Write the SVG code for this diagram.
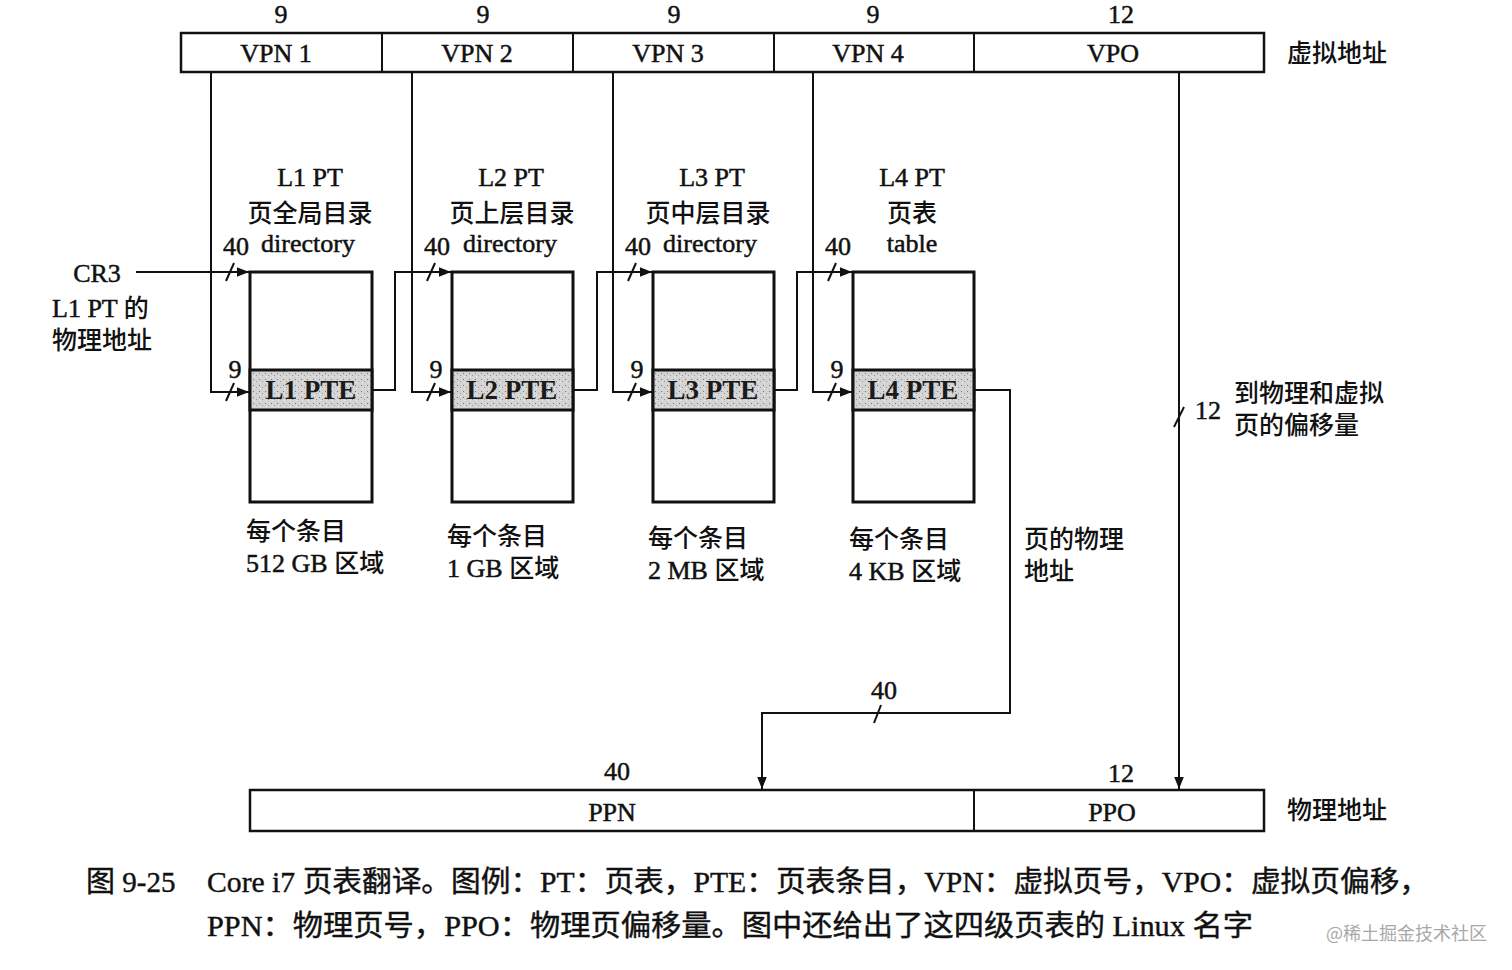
<svg xmlns="http://www.w3.org/2000/svg" width="1512" height="970" viewBox="0 0 1512 970">
<style>
text{font-family:"Liberation Serif","Noto Sans CJK SC",serif;fill:#111;}
.n{font-size:26px;stroke:#111;stroke-width:0.5;}
.c{text-anchor:middle;}
.cj{font-family:"Noto Sans CJK SC",sans-serif;font-size:25px;font-weight:500;stroke:none;}
.cap{font-size:29px;stroke:#111;stroke-width:0.4;}
.box{fill:#fff;stroke:#111;stroke-width:3;}
.bar{fill:#fff;stroke:#111;stroke-width:2.5;}
.pte{fill:url(#stip);stroke:#111;stroke-width:3;}
.pt{font-size:27px;font-weight:bold;text-anchor:middle;fill:#1a1a1a;}
.ln{fill:none;stroke:#111;stroke-width:2;}
.sl{stroke:#111;stroke-width:2;}
</style>
<defs>
<marker id="ar" viewBox="0 0 10 10" refX="10" refY="5" markerWidth="12" markerHeight="12" markerUnits="userSpaceOnUse" orient="auto">
<path d="M0,1 L10,5 L0,9 Z" fill="#111"/>
</marker>
<pattern id="stip" width="6" height="6" patternUnits="userSpaceOnUse">
<rect width="6" height="6" fill="#d4d4d4"/>
<rect x="1" y="1" width="1" height="1" fill="#777"/>
<rect x="4" y="3" width="1" height="1" fill="#999"/>
<rect x="2" y="4" width="1" height="1" fill="#eee"/>
</pattern>
</defs>
<rect width="1512" height="970" fill="#fff"/>

<g id="virtual-address">
<rect class="bar" x="181" y="33" width="1083" height="39"/>
<line class="sl" x1="382" y1="33" x2="382" y2="72"/>
<line class="sl" x1="573" y1="33" x2="573" y2="72"/>
<line class="sl" x1="774" y1="33" x2="774" y2="72"/>
<line class="sl" x1="974" y1="33" x2="974" y2="72"/>
<text class="n c" x="276" y="62">VPN 1</text>
<text class="n c" x="477" y="62">VPN 2</text>
<text class="n c" x="668" y="62">VPN 3</text>
<text class="n c" x="868" y="62">VPN 4</text>
<text class="n c" x="1113" y="62">VPO</text>
<text class="n c" x="281" y="23">9</text>
<text class="n c" x="483" y="23">9</text>
<text class="n c" x="674" y="23">9</text>
<text class="n c" x="873" y="23">9</text>
<text class="n c" x="1121" y="23">12</text>
<text class="cj" x="1287" y="62">虚拟地址</text>
</g>

<g id="cr3">
<text class="n c" x="97" y="282">CR3</text>
<text class="n" x="52" y="317">L1 PT <tspan class="cj">的</tspan></text>
<text class="cj" x="52" y="349">物理地址</text>
</g>

<g id="l1">
<text class="n c" x="310" y="186">L1 PT</text>
<text class="cj c" x="310" y="222">页全局目录</text>
<text class="n c" x="308" y="252">directory</text>
<rect class="box" x="250" y="272" width="122" height="230"/>
<rect class="pte" x="250" y="370" width="122" height="40"/>
<text class="pt" x="311" y="399">L1 PTE</text>
<text class="cj" x="246" y="540">每个条目</text>
<text class="n" x="246" y="572">512 GB <tspan class="cj">区域</tspan></text>
</g>

<g id="l2">
<text class="n c" x="511" y="186">L2 PT</text>
<text class="cj c" x="512" y="222">页上层目录</text>
<text class="n c" x="510" y="252">directory</text>
<rect class="box" x="452" y="272" width="121" height="230"/>
<rect class="pte" x="452" y="370" width="121" height="40"/>
<text class="pt" x="512" y="399">L2 PTE</text>
<text class="cj" x="447" y="545">每个条目</text>
<text class="n" x="447" y="577">1 GB <tspan class="cj">区域</tspan></text>
</g>

<g id="l3">
<text class="n c" x="712" y="186">L3 PT</text>
<text class="cj c" x="708" y="222">页中层目录</text>
<text class="n c" x="710" y="252">directory</text>
<rect class="box" x="653" y="272" width="121" height="230"/>
<rect class="pte" x="653" y="370" width="121" height="40"/>
<text class="pt" x="713" y="399">L3 PTE</text>
<text class="cj" x="648" y="547">每个条目</text>
<text class="n" x="648" y="579">2 MB <tspan class="cj">区域</tspan></text>
</g>

<g id="l4">
<text class="n c" x="912" y="186">L4 PT</text>
<text class="cj c" x="912" y="222">页表</text>
<text class="n c" x="912" y="252">table</text>
<rect class="box" x="853" y="272" width="121" height="230"/>
<rect class="pte" x="853" y="370" width="121" height="40"/>
<text class="pt" x="913" y="399">L4 PTE</text>
<text class="cj" x="849" y="548">每个条目</text>
<text class="n" x="849" y="580">4 KB <tspan class="cj">区域</tspan></text>
</g>

<g id="physical-address">
<rect class="bar" x="250" y="790" width="1014" height="41"/>
<line class="sl" x1="974" y1="790" x2="974" y2="831"/>
<text class="n c" x="612" y="821">PPN</text>
<text class="n c" x="1112" y="821">PPO</text>
<text class="n c" x="617" y="780">40</text>
<text class="n c" x="1121" y="782">12</text>
<text class="cj" x="1287" y="819">物理地址</text>
</g>

<g id="connectors">
<line class="ln" x1="136" y1="272" x2="249" y2="272" marker-end="url(#ar)"/>
<polyline class="ln" points="211,72 211,392 249,392" marker-end="url(#ar)"/>
<polyline class="ln" points="412,72 412,392 451,392" marker-end="url(#ar)"/>
<polyline class="ln" points="613,72 613,392 652,392" marker-end="url(#ar)"/>
<polyline class="ln" points="813,72 813,392 852,392" marker-end="url(#ar)"/>
<polyline class="ln" points="372,390 395,390 395,272 451,272" marker-end="url(#ar)"/>
<polyline class="ln" points="573,390 597,390 597,272 652,272" marker-end="url(#ar)"/>
<polyline class="ln" points="774,390 797,390 797,272 852,272" marker-end="url(#ar)"/>
<polyline class="ln" points="974,390 1010,390 1010,713 762,713 762,789" marker-end="url(#ar)"/>
<line class="ln" x1="1179" y1="72" x2="1179" y2="789" marker-end="url(#ar)"/>
<line class="sl" x1="226" y1="281" x2="234" y2="263"/>
<line class="sl" x1="427" y1="281" x2="435" y2="263"/>
<line class="sl" x1="628" y1="281" x2="636" y2="263"/>
<line class="sl" x1="828" y1="281" x2="836" y2="263"/>
<line class="sl" x1="226" y1="401" x2="234" y2="383"/>
<line class="sl" x1="427" y1="401" x2="435" y2="383"/>
<line class="sl" x1="628" y1="401" x2="636" y2="383"/>
<line class="sl" x1="828" y1="401" x2="836" y2="383"/>
<line class="sl" x1="874" y1="723" x2="881" y2="705"/>
<line class="sl" x1="1174" y1="427" x2="1184" y2="407"/>
<text class="n c" x="236" y="255">40</text>
<text class="n c" x="437" y="255">40</text>
<text class="n c" x="638" y="255">40</text>
<text class="n c" x="838" y="255">40</text>
<text class="n c" x="235" y="378">9</text>
<text class="n c" x="436" y="378">9</text>
<text class="n c" x="637" y="378">9</text>
<text class="n c" x="837" y="378">9</text>
<text class="n c" x="884" y="699">40</text>
<text class="n c" x="1208" y="419">12</text>
<text class="cj" x="1234" y="402">到物理和虚拟</text>
<text class="cj" x="1234" y="434">页的偏移量</text>
<text class="cj" x="1024" y="548">页的物理</text>
<text class="cj" x="1024" y="580">地址</text>
</g>

<g id="caption">
<text class="cap" x="86" y="892">图 9-25</text>
<text class="cap" x="207" y="892" textLength="1222" lengthAdjust="spacingAndGlyphs">Core i7 页表翻译。图例：PT：页表，PTE：页表条目，VPN：虚拟页号，VPO：虚拟页偏移，</text>
<text class="cap" x="207" y="936" textLength="1046" lengthAdjust="spacingAndGlyphs">PPN：物理页号，PPO：物理页偏移量。图中还给出了这四级页表的 Linux 名字</text>
<text x="1326" y="940" textLength="161" style="font-family:'Noto Sans CJK SC',sans-serif;font-size:18px;fill:#a8a8a8;">@稀土掘金技术社区</text>
</g>
</svg>
